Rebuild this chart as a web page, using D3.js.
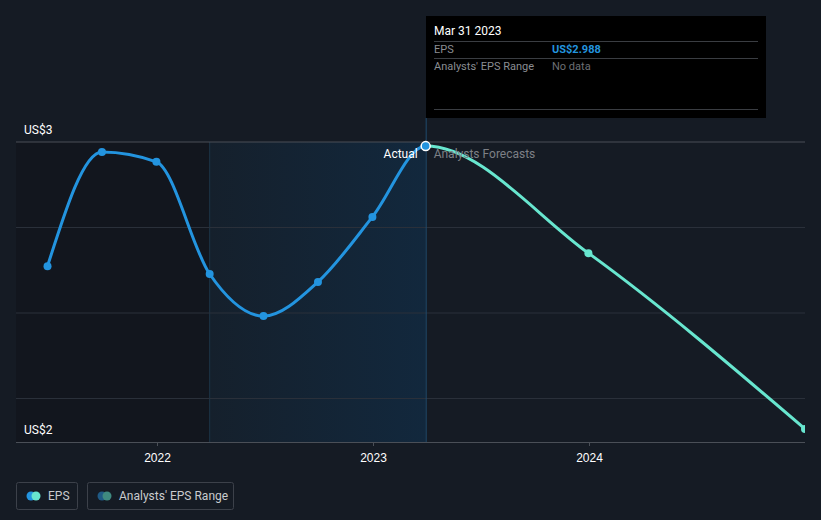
<!DOCTYPE html>
<html>
<head>
<meta charset="utf-8">
<script src="https://cdn.jsdelivr.net/npm/d3@7"></script>
<style>
  body { margin: 0; background: #151b24; }
  svg { display: block; font-family: Roboto, 'Noto Sans', sans-serif; }
</style>
</head>
<body>
<div id="chart"></div>
<script>
// data
const actualDates = ['2021-06-30', '2021-09-30', '2021-12-31', '2022-03-31', '2022-06-30', '2022-09-30', '2022-12-31', '2023-03-31']
const actualEps = [2.637, 2.971, 2.942, 2.614, 2.491, 2.591, 2.781, 2.988]
const forecastDates = ['2023-03-31', '2023-12-31', '2024-12-31']
const forecastEps = [2.988, 2.675, 2.161]
const gridValues = [3, 2.75, 2.5, 2.25]
const yearTicks = ['2022-01-01', '2023-01-01', '2024-01-01']

const parse = d3.timeParse('%Y-%m-%d')
const actual = actualDates.map((d, i) => ({ date: parse(d), eps: actualEps[i] }))
const forecast = forecastDates.map((d, i) => ({ date: parse(d), eps: forecastEps[i] }))
const combined = actual.concat(forecast.slice(1))

const width = 821
const height = 520
const plotLeft = 16
const plotRight = 805
const plotTop = 142
const plotBottom = 442

const svg = d3
  .select('#chart')
  .append('svg')
  .attr('width', width)
  .attr('height', height)

svg.append('rect').attr('width', width).attr('height', height).attr('fill', '#151b24')

const xPositionScale = d3
  .scaleTime()
  .domain([parse('2022-01-01'), parse('2024-01-01')])
  .range([157, 589])

const yPositionScale = d3
  .scaleLinear()
  .domain([2.25, 3])
  .range([398.5, plotTop])

const lastActual = actual[actual.length - 1].date
const rangeStart = actual[3].date
const splitX = xPositionScale(lastActual)

const defs = svg.append('defs')
const grad = defs.append('linearGradient').attr('id', 'pastGrad')
grad.append('stop').attr('offset', '0%').attr('stop-color', '#15202c')
grad.append('stop').attr('offset', '100%').attr('stop-color', '#12283d')
defs.append('clipPath').attr('id', 'pastClip')
  .append('rect').attr('x', plotLeft).attr('y', 100).attr('width', splitX - plotLeft).attr('height', plotBottom - 100)
defs.append('clipPath').attr('id', 'futureClip')
  .append('rect').attr('x', splitX).attr('y', 100).attr('width', plotRight - splitX).attr('height', plotBottom - 100)
defs.append('clipPath').attr('id', 'plotClip')
  .append('rect').attr('x', plotLeft).attr('y', 100).attr('width', plotRight - plotLeft).attr('height', plotBottom - 100)

// darker past area
svg.append('rect')
  .attr('x', plotLeft)
  .attr('y', plotTop)
  .attr('width', xPositionScale(rangeStart) - plotLeft)
  .attr('height', plotBottom - plotTop)
  .attr('fill', '#12161e')

svg.append('rect')
  .attr('x', xPositionScale(rangeStart))
  .attr('y', plotTop)
  .attr('width', splitX - xPositionScale(rangeStart))
  .attr('height', plotBottom - plotTop)
  .attr('fill', 'url(#pastGrad)')

svg.append('line')
  .attr('x1', xPositionScale(rangeStart)).attr('x2', xPositionScale(rangeStart))
  .attr('y1', plotTop).attr('y2', plotBottom)
  .attr('stroke', '#1c3347')

// grid
svg.append('g')
  .selectAll('line')
  .data(gridValues)
  .enter()
  .append('line')
  .attr('x1', plotLeft)
  .attr('x2', plotRight)
  .attr('y1', d => yPositionScale(d))
  .attr('y2', d => yPositionScale(d))
  .attr('stroke', d => (d === 3 ? '#4a4f57' : '#2a303a'))

// x axis
const x_axis = d3.axisBottom(xPositionScale)
  .tickValues(yearTicks.map(parse))
  .tickFormat(d3.timeFormat('%Y'))
  .tickSize(4)
svg.append('g')
  .attr('class', 'axis x-axis')
  .attr('transform', 'translate(0,' + plotBottom + ')')
  .call(x_axis)
svg.select('.x-axis path').remove()
svg.append('line')
  .attr('x1', plotLeft).attr('x2', plotRight)
  .attr('y1', plotBottom + 0.5).attr('y2', plotBottom + 0.5)
  .attr('stroke', '#4a4f57')
svg.selectAll('.x-axis line').attr('stroke', '#4a4f57')
svg.selectAll('.x-axis text').attr('fill', '#ffffff').attr('font-size', 12).attr('dy', '1.1em')

// y labels
svg.append('text').attr('x', 24).attr('y', yPositionScale(3) - 8).text('US$3')
  .attr('fill', '#ffffff').attr('font-size', 12)
svg.append('text').attr('x', 24).attr('y', plotBottom - 8).text('US$2')
  .attr('fill', '#ffffff').attr('font-size', 12)

// tooltip vertical line
svg.append('line')
  .attr('x1', splitX + 0.5).attr('x2', splitX + 0.5)
  .attr('y1', 118).attr('y2', plotBottom)
  .attr('stroke', '#1f4b6e')

const line = d3.line()
  .x(d => xPositionScale(d.date))
  .y(d => yPositionScale(d.eps))
  .curve(d3.curveMonotoneX)

// one smooth curve, coloured differently either side of the last actual
svg.append('path')
  .datum(combined)
  .attr('d', line)
  .attr('clip-path', 'url(#futureClip)')
  .attr('fill', 'none')
  .attr('stroke', '#68e6cf')
  .attr('stroke-width', 3)

svg.append('path')
  .datum(combined)
  .attr('d', line)
  .attr('clip-path', 'url(#pastClip)')
  .attr('fill', 'none')
  .attr('stroke', '#2394df')
  .attr('stroke-width', 3)

const plot = svg.append('g').attr('clip-path', 'url(#plotClip)')

plot.selectAll('.fc')
  .data(forecast.slice(1))
  .enter()
  .append('circle')
  .attr('cx', d => xPositionScale(d.date))
  .attr('cy', d => yPositionScale(d.eps))
  .attr('r', 4)
  .attr('fill', '#68e6cf')

plot.selectAll('.ac')
  .data(actual)
  .enter()
  .append('circle')
  .attr('cx', d => xPositionScale(d.date))
  .attr('cy', d => yPositionScale(d.eps))
  .attr('r', (d, i) => (i === actual.length - 1 ? 4.5 : 4))
  .attr('fill', '#2394df')
  .attr('stroke', (d, i) => (i === actual.length - 1 ? '#ffffff' : 'none'))
  .attr('stroke-width', 1.5)

svg.append('text')
  .attr('x', splitX - 8)
  .attr('y', 158)
  .attr('text-anchor', 'end')
  .attr('fill', '#ffffff')
  .attr('font-size', 12)
  .text('Actual')
svg.append('text')
  .attr('x', splitX + 8)
  .attr('y', 158)
  .attr('fill', '#7d8086')
  .attr('font-size', 12)
  .text('Analysts Forecasts')

// tooltip box
const tip = svg.append('g').attr('transform', 'translate(426,16)')
tip.append('rect').attr('width', 340).attr('height', 102).attr('fill', '#000000')
tip.append('text').attr('x', 8).attr('y', 19).attr('fill', '#ffffff').attr('font-size', 12).text('Mar 31 2023')
tip.append('line').attr('x1', 8).attr('x2', 332).attr('y1', 25.5).attr('y2', 25.5).attr('stroke', '#3a3d42')
tip.append('text').attr('x', 8).attr('y', 37).attr('fill', '#8a8d92').attr('font-size', 11).text('EPS')
tip.append('text').attr('x', 126).attr('y', 37).attr('fill', '#2394df').attr('font-size', 11)
  .attr('font-weight', 'bold').text('US$' + actualEps[actualEps.length - 1].toFixed(3))
tip.append('line').attr('x1', 8).attr('x2', 332).attr('y1', 42.5).attr('y2', 42.5).attr('stroke', '#3a3d42')
tip.append('text').attr('x', 8).attr('y', 54).attr('fill', '#8a8d92').attr('font-size', 11).text("Analysts' EPS Range")
tip.append('text').attr('x', 126).attr('y', 54).attr('fill', '#6c6f74').attr('font-size', 11).text('No data')
tip.append('line').attr('x1', 8).attr('x2', 332).attr('y1', 93.5).attr('y2', 93.5).attr('stroke', '#3a3d42')

// legend
const legend = [
  { label: 'EPS', x: 16, w: 61, c1: '#2394df', c2: '#68e6cf' },
  { label: "Analysts' EPS Range", x: 87, w: 146, c1: '#1f5a85', c2: '#3f8a80' }
]
const lg = svg.selectAll('.legend')
  .data(legend)
  .enter()
  .append('g')
  .attr('transform', d => 'translate(' + d.x + ',482)')
lg.append('rect')
  .attr('x', 0.5).attr('y', 0.5)
  .attr('width', d => d.w).attr('height', 27)
  .attr('rx', 2)
  .attr('fill', 'none')
  .attr('stroke', '#3c414a')
lg.append('circle').attr('cx', 15).attr('cy', 14).attr('r', 4.5).attr('fill', d => d.c1)
lg.append('circle').attr('cx', 20).attr('cy', 14).attr('r', 4.5).attr('fill', d => d.c2)
lg.append('text')
  .attr('x', 32).attr('y', 18)
  .attr('fill', '#c9cbce')
  .attr('font-size', 12)
  .text(d => d.label)
</script>
</body>
</html>
